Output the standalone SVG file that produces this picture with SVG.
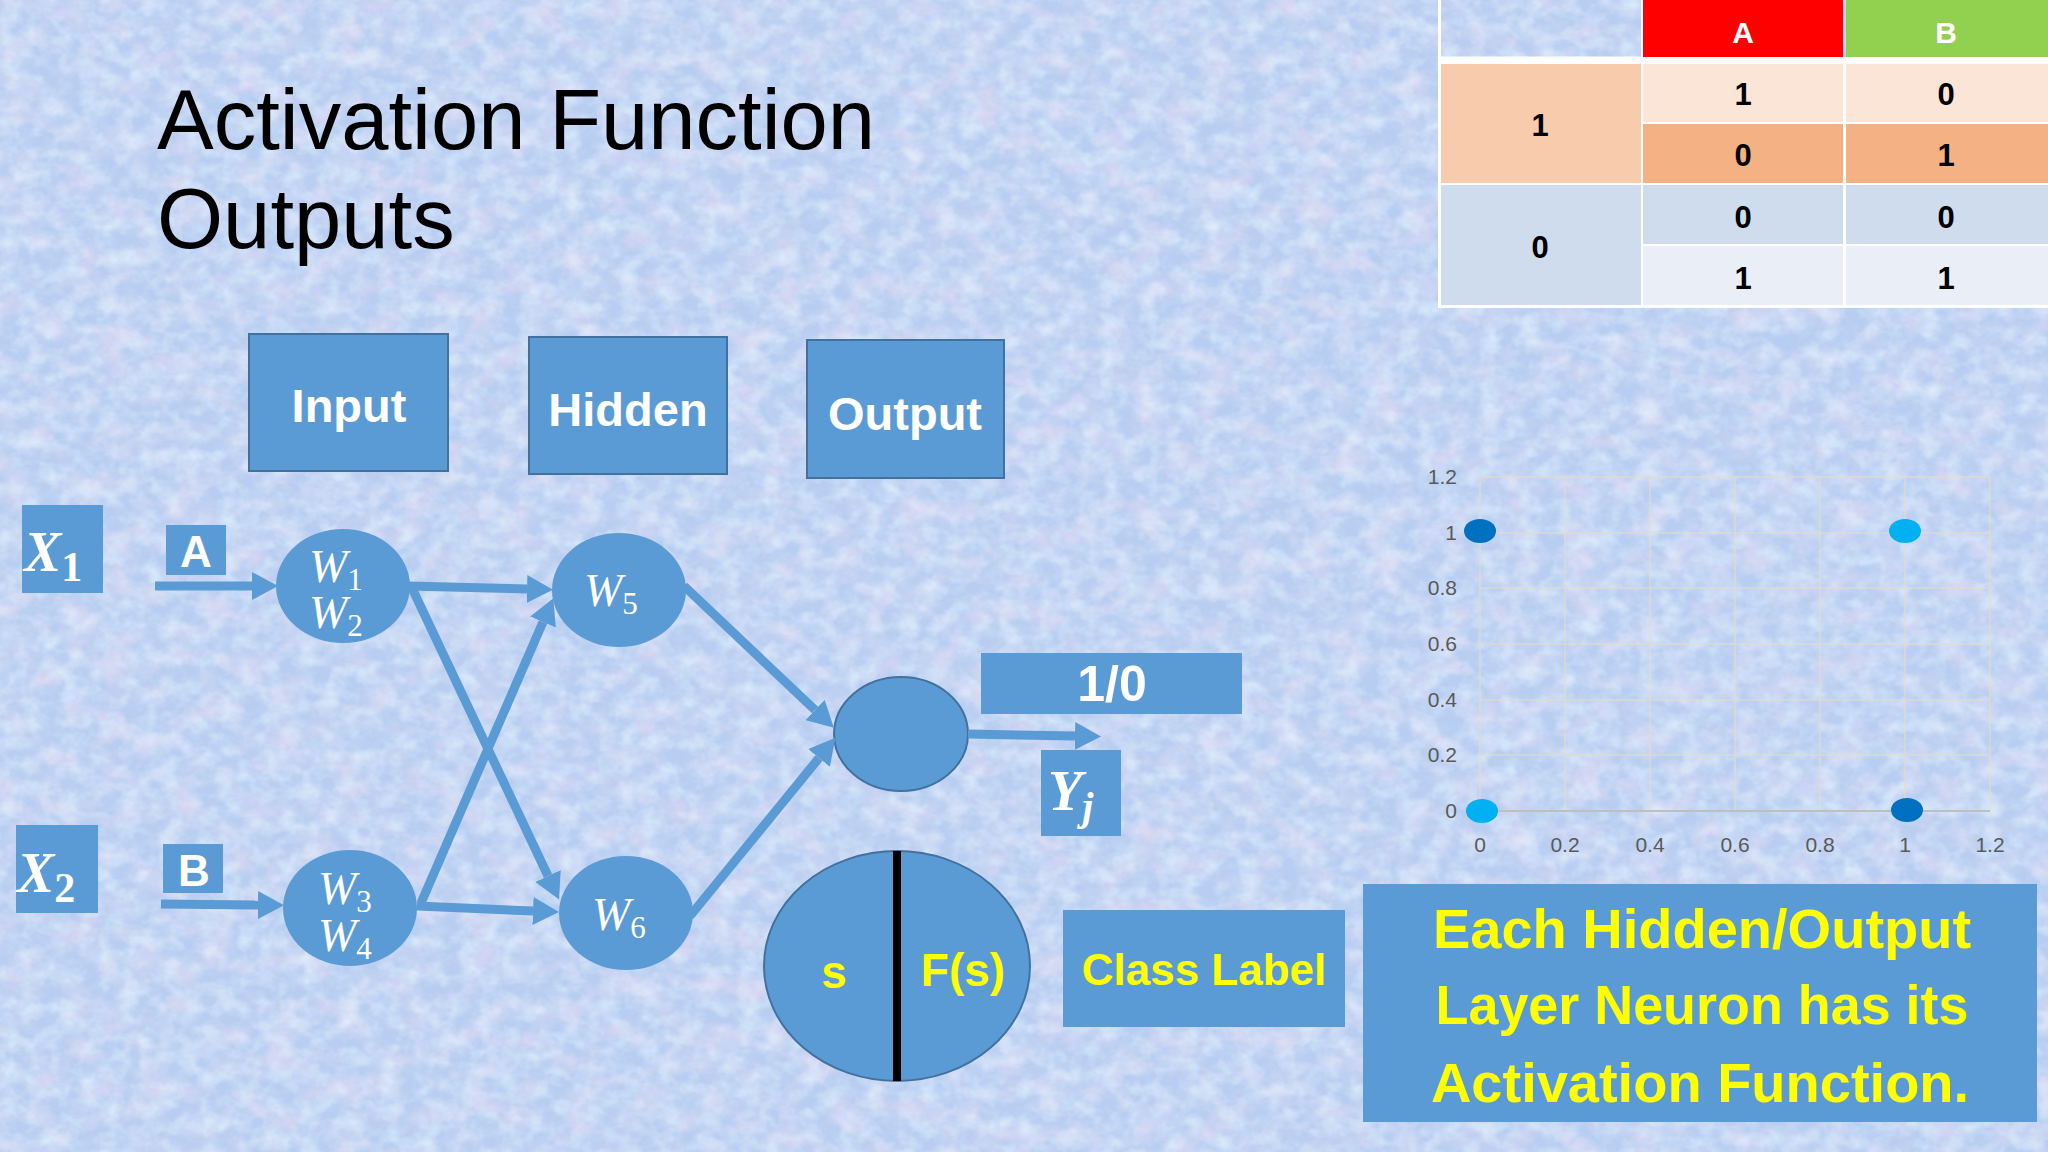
<svg xmlns="http://www.w3.org/2000/svg" width="2048" height="1152" viewBox="0 0 2048 1152">
<defs>
<style>
.box{fill:#5b9bd5;stroke:#41719c;stroke-width:2}
.flat{fill:#5b9bd5}
.lbl{font-family:"Liberation Sans",Arial,sans-serif;font-weight:bold;fill:#ffffff;text-anchor:middle}
.yl{fill:#ffff00}
.math{font-family:"Liberation Serif","DejaVu Serif",serif;font-style:italic;fill:#ffffff}
.sub{font-style:normal}
.conn{stroke:#5b9bd5;stroke-width:9;fill:none;marker-end:url(#ah)}
.tick{font-family:"Liberation Sans",Arial,sans-serif;font-size:21px;fill:#595959}
.grid{stroke:#e4dcc4;stroke-width:1.5;opacity:0.7}
.td{font-family:"Liberation Sans",Arial,sans-serif;font-weight:bold;font-size:31px;fill:#000000;text-anchor:middle}
.title{font-family:"Liberation Sans",Arial,sans-serif;font-size:85px;fill:#000000}
</style>
<marker id="ah" markerUnits="userSpaceOnUse" markerWidth="26" markerHeight="28" viewBox="0 0 26 28" refX="0" refY="14" orient="auto">
<path d="M0,0 L26,14 L0,28 z" fill="#5b9bd5"/>
</marker>
<filter id="tp" x="0" y="0" width="100%" height="100%">
<feTurbulence type="fractalNoise" baseFrequency="0.03 0.04" numOctaves="4" seed="7"/>
<feColorMatrix type="matrix" values="0 0 0 0 0.9  0 0 0 0 0.74  0 0 0 0 0.9  1.3 0 0 0 -0.55"/>
</filter>
<filter id="tb" x="0" y="0" width="100%" height="100%">
<feTurbulence type="fractalNoise" baseFrequency="0.06 0.08" numOctaves="3" seed="11"/>
<feColorMatrix type="matrix" values="0 0 0 0 0.6  0 0 0 0 0.72  0 0 0 0 0.92  0 1.2 0 0 -0.5"/>
</filter>
<filter id="tl" x="0" y="0" width="100%" height="100%">
<feTurbulence type="fractalNoise" baseFrequency="0.05 0.06" numOctaves="3" seed="23"/>
<feColorMatrix type="matrix" values="0 0 0 0 0.8  0 0 0 0 0.92  0 0 0 0 1  0 0 1.3 0 -0.52"/>
</filter>
</defs>

<g id="background">
<rect x="0" y="0" width="2048" height="1152" fill="#b7cdf1"/>
<rect x="0" y="0" width="2048" height="1152" filter="url(#tp)"/>
<rect x="0" y="0" width="2048" height="1152" filter="url(#tb)"/>
<rect x="0" y="0" width="2048" height="1152" filter="url(#tl)"/>
</g>

<g id="title">
<text class="title" x="157" y="149">Activation Function</text>
<text class="title" x="157" y="248">Outputs</text>
</g>

<g id="layer-input">
<rect class="box" x="249" y="334" width="199" height="137"/>
<text class="lbl" x="349" y="422" font-size="47">Input</text>
</g>
<g id="layer-hidden">
<rect class="box" x="529" y="337" width="198" height="137"/>
<text class="lbl" x="628" y="426" font-size="47">Hidden</text>
</g>
<g id="layer-output">
<rect class="box" x="807" y="340" width="197" height="138"/>
<text class="lbl" x="905" y="430" font-size="47">Output</text>
</g>

<g id="x1">
<rect class="flat" x="22" y="505" width="81" height="88"/>
<text class="math yl" x="24" y="571" font-size="56" font-weight="bold">X<tspan class="sub" font-size="42" dy="10">1</tspan></text>
</g>
<g id="x2">
<rect class="flat" x="16" y="825" width="82" height="88"/>
<text class="math yl" x="17" y="892" font-size="56" font-weight="bold">X<tspan class="sub" font-size="42" dy="10">2</tspan></text>
</g>
<g id="label-a">
<rect class="flat" x="166" y="525" width="60" height="50"/>
<text class="lbl" x="196" y="567" font-size="44">A</text>
</g>
<g id="label-b">
<rect class="flat" x="163" y="844" width="60" height="49"/>
<text class="lbl" x="194" y="886" font-size="44">B</text>
</g>

<g id="n-w12">
<ellipse class="flat" cx="343" cy="586" rx="67" ry="57"/>
<text class="math" x="309" y="582" font-size="46">W<tspan class="sub" font-size="31" dy="8">1</tspan></text>
<text class="math" x="309" y="628" font-size="46">W<tspan class="sub" font-size="31" dy="8">2</tspan></text>
</g>
<g id="n-w34">
<ellipse class="flat" cx="350" cy="908" rx="67" ry="58"/>
<text class="math" x="318" y="904" font-size="46">W<tspan class="sub" font-size="31" dy="8">3</tspan></text>
<text class="math" x="318" y="951" font-size="46">W<tspan class="sub" font-size="31" dy="8">4</tspan></text>
</g>
<g id="n-w5">
<ellipse class="flat" cx="619" cy="590" rx="67" ry="57"/>
<text class="math" x="584" y="606" font-size="46">W<tspan class="sub" font-size="31" dy="8">5</tspan></text>
</g>
<g id="n-w6">
<ellipse class="flat" cx="626" cy="913" rx="67" ry="57"/>
<text class="math" x="592" y="930" font-size="46">W<tspan class="sub" font-size="31" dy="8">6</tspan></text>
</g>
<g id="n-out">
<ellipse class="box" cx="901" cy="734" rx="67" ry="57"/>
</g>

<g id="connectors">
<line class="conn" x1="155" y1="586" x2="252" y2="586"/>
<line class="conn" x1="161" y1="904" x2="258" y2="905"/>
<line class="conn" x1="408" y1="586" x2="527" y2="589"/>
<line class="conn" x1="411" y1="586" x2="548" y2="876"/>
<line class="conn" x1="421" y1="903" x2="543" y2="622"/>
<line class="conn" x1="417" y1="906" x2="533" y2="911"/>
<line class="conn" x1="684" y1="586" x2="815" y2="710"/>
<line class="conn" x1="690" y1="916" x2="819" y2="758"/>
<line class="conn" x1="968" y1="734" x2="1075" y2="736"/>
</g>

<g id="val-10">
<rect class="flat" x="981" y="653" width="261" height="61"/>
<text class="lbl" x="1112" y="701" font-size="50">1/0</text>
</g>
<g id="yj">
<rect class="flat" x="1041" y="750" width="80" height="86"/>
<text class="math yl" x="1048" y="810" font-size="56" font-weight="bold">Y<tspan font-size="40" dy="10">j</tspan></text>
</g>

<g id="neuron-sf">
<ellipse class="box" cx="897" cy="966" rx="133" ry="115"/>
<line x1="897" y1="851" x2="897" y2="1081" stroke="#000000" stroke-width="8"/>
<text class="lbl yl" x="834" y="988" font-size="46">s</text>
<text class="lbl yl" x="963" y="986" font-size="46">F(s)</text>
</g>

<g id="class-label">
<rect class="flat" x="1063" y="910" width="282" height="117"/>
<text class="lbl yl" x="1204" y="985" font-size="44">Class Label</text>
</g>

<g id="note">
<rect class="flat" x="1363" y="884" width="674" height="238"/>
<text class="lbl yl" x="1702" y="948" font-size="56">Each Hidden/Output</text>
<text class="lbl yl" x="1702" y="1024" font-size="56" textLength="533" lengthAdjust="spacingAndGlyphs">Layer Neuron has its</text>
<text class="lbl yl" x="1700" y="1102" font-size="56">Activation Function.</text>
</g>

<g id="table">
<rect x="1438" y="57" width="610" height="251" fill="#ffffff"/>
<rect x="1439.5" y="-2" width="203" height="60" fill="none" stroke="#ffffff" stroke-width="3"/>
<rect x="1643" y="0" width="200" height="57" fill="#ff0000"/>
<rect x="1846" y="0" width="202" height="57" fill="#92d050"/>
<text class="lbl" x="1743" y="43" font-size="30">A</text>
<text class="lbl" x="1946" y="43" font-size="30">B</text>
<rect x="1441" y="64" width="200" height="119" fill="#f8cbad"/>
<rect x="1643" y="64" width="200" height="58" fill="#fbe5d6"/>
<rect x="1846" y="64" width="202" height="58" fill="#fbe5d6"/>
<rect x="1643" y="124" width="200" height="59" fill="#f4b183"/>
<rect x="1846" y="124" width="202" height="59" fill="#f4b183"/>
<rect x="1441" y="185" width="200" height="120" fill="#cfdcee"/>
<rect x="1643" y="185" width="200" height="59" fill="#cfdcee"/>
<rect x="1846" y="185" width="202" height="59" fill="#cfdcee"/>
<rect x="1643" y="246" width="200" height="59" fill="#e9eef7"/>
<rect x="1846" y="246" width="202" height="59" fill="#e9eef7"/>
<text class="td" x="1540" y="136">1</text>
<text class="td" x="1540" y="258">0</text>
<text class="td" x="1743" y="105">1</text>
<text class="td" x="1946" y="105">0</text>
<text class="td" x="1743" y="166">0</text>
<text class="td" x="1946" y="166">1</text>
<text class="td" x="1743" y="228">0</text>
<text class="td" x="1946" y="228">0</text>
<text class="td" x="1743" y="289">1</text>
<text class="td" x="1946" y="289">1</text>
</g>

<g id="chart">
<g class="grid">
<line x1="1480" y1="477" x2="1990" y2="477"/>
<line x1="1480" y1="533" x2="1990" y2="533"/>
<line x1="1480" y1="588" x2="1990" y2="588"/>
<line x1="1480" y1="644" x2="1990" y2="644"/>
<line x1="1480" y1="700" x2="1990" y2="700"/>
<line x1="1480" y1="755" x2="1990" y2="755"/>
<line x1="1480" y1="477" x2="1480" y2="811"/>
<line x1="1565" y1="477" x2="1565" y2="811"/>
<line x1="1650" y1="477" x2="1650" y2="811"/>
<line x1="1735" y1="477" x2="1735" y2="811"/>
<line x1="1820" y1="477" x2="1820" y2="811"/>
<line x1="1905" y1="477" x2="1905" y2="811"/>
<line x1="1990" y1="477" x2="1990" y2="811"/>
</g>
<line x1="1480" y1="811" x2="1990" y2="811" stroke="#bfbfbf" stroke-width="2"/>
<g class="tick" text-anchor="end">
<text x="1457" y="484">1.2</text>
<text x="1457" y="540">1</text>
<text x="1457" y="595">0.8</text>
<text x="1457" y="651">0.6</text>
<text x="1457" y="707">0.4</text>
<text x="1457" y="762">0.2</text>
<text x="1457" y="818">0</text>
</g>
<g class="tick" text-anchor="middle">
<text x="1480" y="852">0</text>
<text x="1565" y="852">0.2</text>
<text x="1650" y="852">0.4</text>
<text x="1735" y="852">0.6</text>
<text x="1820" y="852">0.8</text>
<text x="1905" y="852">1</text>
<text x="1990" y="852">1.2</text>
</g>
<ellipse cx="1480" cy="531" rx="16" ry="12" fill="#0070c0"/>
<ellipse cx="1905" cy="531" rx="16" ry="12" fill="#00b0f0"/>
<ellipse cx="1482" cy="811" rx="16" ry="12" fill="#00b0f0"/>
<ellipse cx="1907" cy="810" rx="16" ry="12" fill="#0070c0"/>
</g>
</svg>
